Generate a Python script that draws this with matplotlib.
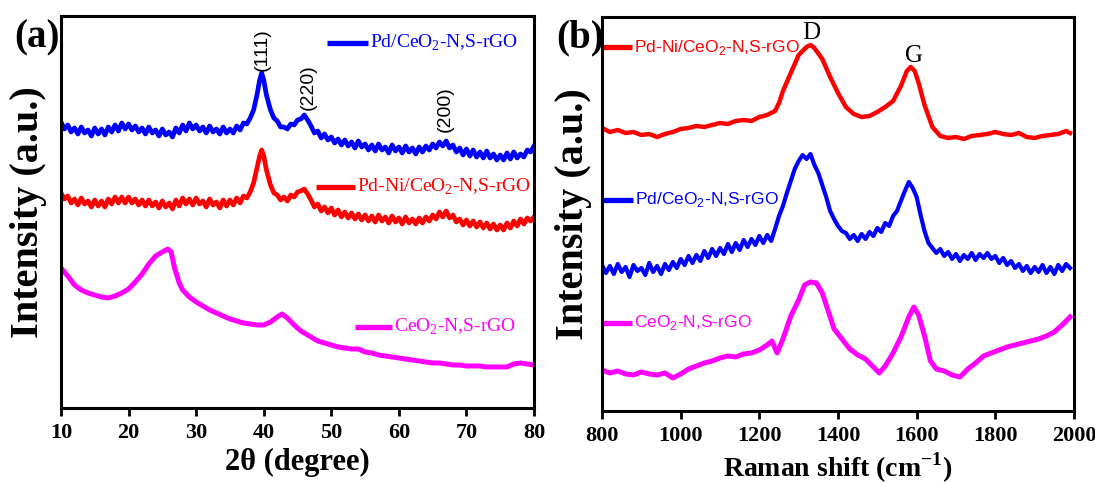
import matplotlib
matplotlib.use("Agg")
import matplotlib.pyplot as plt
from matplotlib import font_manager

# ---------------- XRD data (2theta in degrees, intensity in a.u.) ----------------
xrd_2theta = [10, 10.5, 11, 11.5, 12, 12.5, 13, 13.5, 14, 14.5, 15, 15.5, 16, 16.5, 17, 17.5,
              18, 18.5, 19, 19.5, 20, 20.5, 21, 21.5, 22, 22.5, 23, 23.5, 24, 24.5, 25, 25.5,
              26, 26.5, 27, 27.5, 28, 28.5, 29, 29.5, 30, 30.5, 31, 31.5, 32, 32.5, 33, 33.5,
              34, 34.5, 35, 35.5, 36, 36.5, 37, 37.5, 38, 38.5, 39, 39.4, 39.7, 40, 40.4, 41,
              41.5, 42, 42.5, 43, 43.5, 44, 44.5, 45, 45.5, 46, 46.5, 47, 47.5, 48, 48.5, 49,
              49.5, 50, 50.5, 51, 51.5, 52, 52.5, 53, 53.5, 54, 54.5, 55, 55.5, 56, 56.5, 57,
              57.5, 58, 58.5, 59, 59.5, 60, 60.5, 61, 61.5, 62, 62.5, 63, 63.5, 64, 64.5, 65,
              65.5, 66, 66.5, 67, 67.5, 68, 68.5, 69, 69.5, 70, 70.5, 71, 71.5, 72, 72.5, 73,
              73.5, 74, 74.5, 75, 75.5, 76, 76.5, 77, 77.5, 78, 78.5, 79, 79.5, 80]
xrd_pd_int = [286, 279, 283, 276, 280, 274, 281, 275, 278, 272, 280, 274, 279, 273, 281, 276,
              283, 277, 285, 279, 284, 278, 282, 276, 280, 274, 281, 275, 278, 272, 279, 273,
              276, 271, 280, 275, 283, 277, 285, 279, 283, 277, 281, 275, 282, 276, 279, 274,
              281, 275, 279, 275, 282, 278, 285, 284, 290, 298, 313, 328, 335, 328, 313, 298,
              290, 287, 281, 281, 279, 284, 283, 288, 289, 293, 288, 282, 275, 277, 270, 274,
              268, 271, 265, 269, 263, 268, 262, 266, 260, 267, 261, 264, 258, 263, 257, 264,
              258, 261, 255, 263, 257, 261, 255, 262, 256, 260, 254, 261, 256, 262, 258, 264,
              260, 266, 262, 267, 260, 263, 256, 260, 253, 259, 252, 258, 251, 256, 250, 257,
              250, 254, 248, 253, 248, 255, 249, 256, 250, 254, 251, 258, 256, 262]
xrd_pdni_int = [215, 209, 212, 205, 209, 203, 210, 204, 207, 201, 208, 202, 207, 201, 209, 204,
                211, 205, 211, 205, 211, 205, 209, 203, 208, 202, 208, 202, 206, 200, 207, 201,
                205, 199, 208, 202, 210, 204, 209, 203, 210, 204, 207, 201, 209, 203, 206, 200,
                208, 202, 208, 203, 210, 205, 212, 210, 216, 225, 240, 252, 258, 252, 238, 223,
                215, 213, 208, 211, 207, 213, 211, 216, 217, 219, 214, 208, 201, 204, 197, 201,
                195, 200, 193, 198, 191, 196, 190, 195, 189, 194, 188, 193, 187, 192, 186, 193,
                187, 191, 185, 192, 186, 190, 184, 191, 185, 189, 184, 190, 185, 191, 187, 193,
                189, 196, 191, 197, 190, 193, 186, 189, 183, 188, 182, 187, 181, 186, 180, 185,
                179, 184, 178, 183, 178, 185, 180, 187, 182, 189, 184, 190, 187, 191]

xrd_ceo2_2theta = [10, 11, 12, 13, 14, 15, 16, 17, 18, 19, 20, 21, 22, 23, 24, 25, 25.8, 26.3, 26.8,
                   27.5, 28, 29, 30, 31, 32, 33, 34, 35, 36, 37, 38, 39, 40, 41, 42, 42.7, 43.5,
                   44.5, 45.5, 47, 48, 49, 50, 51, 52, 53, 54, 55, 56, 57, 58, 59, 60, 61, 62, 63,
                   64, 65, 66, 67, 68, 69, 70, 71, 72, 73, 74, 75, 76, 77, 78, 79, 80]
xrd_ceo2_int = [140, 132, 123, 118, 115, 113, 111, 110, 112, 115, 119, 126, 134, 144, 152, 156, 159,
                156, 140, 125, 118, 111, 106, 102, 98, 95, 92, 89, 87, 85, 84, 83, 83, 86, 91, 94,
                90, 83, 77, 71, 67, 65, 63, 61, 60, 59, 59, 56, 55, 53, 52, 51, 50, 49, 48, 47, 46,
                45, 45, 44, 43, 43, 42, 42, 42, 41, 41, 41, 41, 44, 45, 44, 43]

# ---------------- Raman data (shift in cm^-1, intensity in a.u.) ----------------
raman_pdni_shift = [800, 820, 840, 860, 880, 900, 920, 940, 960, 980, 1000, 1020, 1040, 1060, 1080,
                    1100, 1120, 1140, 1160, 1180, 1200, 1220, 1240, 1250, 1260, 1280, 1300, 1320,
                    1330, 1340, 1360, 1380, 1400, 1420, 1440, 1460, 1480, 1500, 1520, 1540, 1560,
                    1575, 1585, 1595, 1605, 1620, 1640, 1660, 1680, 1700, 1720, 1740, 1760, 1780,
                    1800, 1820, 1840, 1860, 1880, 1900, 1920, 1940, 1960, 1980, 1990]
raman_pdni_int = [283, 279, 281, 278, 279, 276, 277, 274, 277, 279, 282, 283, 285, 284, 286, 288,
                  287, 290, 291, 290, 294, 296, 300, 308, 320, 338, 356, 364, 366, 363, 352, 334,
                  318, 304, 297, 294, 295, 299, 304, 310, 325, 340, 344, 340, 328, 306, 284, 275,
                  273, 274, 272, 275, 276, 277, 279, 277, 276, 278, 274, 273, 275, 276, 277, 280, 278]

raman_pd_shift = [800, 810, 820, 830, 840, 850, 860, 870, 880, 890, 900, 910, 920, 930, 940, 950,
                  960, 970, 980, 990, 1000, 1010, 1020, 1030, 1040, 1050, 1060, 1070, 1080, 1090,
                  1100, 1110, 1120, 1130, 1140, 1150, 1160, 1170, 1180, 1190, 1200, 1210, 1220,
                  1230, 1240, 1250, 1260, 1270, 1280, 1290, 1300, 1310, 1320, 1330, 1340, 1350,
                  1360, 1370, 1380, 1390, 1400, 1410, 1420, 1430, 1440, 1450, 1460, 1470, 1480,
                  1490, 1500, 1510, 1520, 1530, 1540, 1550, 1560, 1570, 1580, 1590, 1600, 1610,
                  1620, 1630, 1640, 1650, 1660, 1670, 1680, 1690, 1700, 1710, 1720, 1730, 1740,
                  1750, 1760, 1770, 1780, 1790, 1800, 1810, 1820, 1830, 1840, 1850, 1860, 1870,
                  1880, 1890, 1900, 1910, 1920, 1930, 1940, 1950, 1960, 1970, 1980, 1990]
raman_pd_int = [146, 138, 145, 137, 147, 139, 144, 134, 146, 140, 143, 136, 148, 139, 145, 137,
                147, 141, 149, 143, 152, 146, 155, 148, 156, 150, 160, 153, 162, 155, 163, 157,
                167, 159, 168, 161, 171, 164, 172, 166, 175, 168, 176, 170, 182, 195, 205, 218,
                230, 242, 250, 256, 252, 257, 246, 238, 226, 214, 200, 192, 185, 180, 178, 172,
                176, 170, 177, 172, 179, 175, 183, 179, 188, 185, 195, 200, 210, 220, 229, 223,
                214, 196, 180, 168, 163, 158, 162, 155, 159, 152, 157, 150, 156, 152, 158, 151,
                157, 153, 158, 152, 155, 148, 153, 146, 150, 143, 147, 140, 145, 138, 144, 139,
                146, 138, 144, 137, 146, 140, 147, 143]

raman_ceo2_shift = [800, 820, 840, 860, 880, 900, 920, 940, 960, 980, 1000, 1020, 1040, 1060, 1080,
                    1100, 1120, 1140, 1160, 1180, 1200, 1220, 1232, 1245, 1260, 1280, 1300, 1315,
                    1330, 1345, 1360, 1375, 1390, 1410, 1430, 1450, 1470, 1490, 1505, 1520, 1540,
                    1560, 1580, 1593, 1605, 1620, 1635, 1650, 1670, 1690, 1710, 1730, 1750, 1770,
                    1790, 1810, 1830, 1850, 1870, 1890, 1910, 1930, 1950, 1970, 1990]
raman_ceo2_int = [41, 38, 40, 37, 36, 39, 37, 36, 38, 33, 37, 42, 45, 48, 50, 53, 55, 54, 57, 58,
                  61, 66, 70, 58, 72, 95, 111, 126, 129, 128, 118, 100, 82, 72, 62, 56, 52, 44, 38,
                  45, 58, 74, 94, 104, 96, 75, 50, 42, 40, 36, 34, 42, 48, 55, 58, 61, 64, 66, 68,
                  70, 72, 75, 79, 86, 94]

labels_a = ["Pd/CeO$_\\mathregular{2}$-N,S-rGO", "Pd-Ni/CeO$_\\mathregular{2}$-N,S-rGO",
            "CeO$_\\mathregular{2}$-N,S-rGO"]
labels_b = ["Pd-Ni/CeO$_\\mathregular{2}$-N,S-rGO", "Pd/CeO$_\\mathregular{2}$-N,S-rGO",
            "CeO$_\\mathregular{2}$-N,S-rGO"]

BLUE, RED, MAGENTA = "#0000ff", "#ff0000", "#ff00ff"


def pick(*names):
    for n in names:
        try:
            font_manager.findfont(n, fallback_to_default=False)
            return n
        except Exception:
            continue
    return "DejaVu Sans"


SERIF = pick("Liberation Serif", "DejaVu Serif")
SANS = pick("Liberation Sans", "DejaVu Sans")

plt.rcParams["font.family"] = SERIF
plt.rcParams["mathtext.fontset"] = "custom"
plt.rcParams["mathtext.rm"] = SERIF

fig = plt.figure(figsize=(10.95, 4.83), dpi=100)
ax_a = fig.add_axes([0.0557, 0.1553, 0.432, 0.8116])
ax_b = fig.add_axes([0.5498, 0.1491, 0.431, 0.8157])


def style_axes(ax):
    for s in ax.spines.values():
        s.set_linewidth(2.2)
    ax.tick_params(axis="x", direction="out", length=6, width=2, pad=5)
    ax.set_yticks([])
    for lab in ax.get_xticklabels():
        lab.set_fontweight("bold")
        lab.set_fontsize(16)
        lab.set_family(SERIF)


# ---------------- (a) XRD ----------------
ax_a.plot(xrd_2theta, xrd_pd_int, color=BLUE, lw=3.4)
ax_a.plot(xrd_2theta, xrd_pdni_int, color=RED, lw=3.4)
ax_a.plot(xrd_ceo2_2theta, xrd_ceo2_int, color=MAGENTA, lw=3.6)
ax_a.set_xlim(10, 80)
ax_a.set_ylim(0, 392)
ax_a.set_xticks([10, 20, 30, 40, 50, 60, 70, 80])
style_axes(ax_a)
ax_a.set_xlabel("2θ (degree)", fontsize=22, fontweight="bold", labelpad=3)
ax_a.set_ylabel("Intensity (a.u.)", fontsize=29, fontweight="bold", labelpad=10)

for txt, xx, yy in [("(111)", 39.8, 337), ("(220)", 46.6, 298), ("(200)", 66.9, 276)]:
    ax_a.text(xx, yy, txt, rotation=90, ha="center", va="bottom", fontsize=14, family=SANS)

leg_a = [(labels_a[0], BLUE, 49.4, 55.4, 365), (labels_a[1], RED, 47.7, 53.5, 221),
         (labels_a[2], MAGENTA, 53.5, 59.0, 81)]
for lab, col, x0, x1, yy in leg_a:
    ax_a.plot([x0, x1], [yy, yy], color=col, lw=3.8, solid_capstyle="butt")
    ax_a.text(x1 + 0.3, yy, lab, color=col, fontsize=14, va="center", ha="left", family=SERIF)

fig.text(0.013, 0.922, "(a)", fontsize=28, fontweight="bold", ha="left", va="center")

# ---------------- (b) Raman ----------------
ax_b.plot(raman_pdni_shift, raman_pdni_int, color=RED, lw=3.2)
ax_b.plot(raman_pd_shift, raman_pd_int, color=BLUE, lw=3.0)
ax_b.plot(raman_ceo2_shift, raman_ceo2_int, color=MAGENTA, lw=3.6)
ax_b.set_xlim(800, 2000)
ax_b.set_ylim(0, 394)
ax_b.set_xticks([800, 1000, 1200, 1400, 1600, 1800, 2000])
style_axes(ax_b)
ax_b.set_xlabel("Raman shift (cm$^{\\mathregular{-1}}$)", fontsize=20, fontweight="bold", labelpad=3)
ax_b.set_ylabel("Intensity (a.u.)", fontsize=29, fontweight="bold", labelpad=7)

ax_b.text(1332, 378, "D", fontsize=18, ha="center", va="center")
ax_b.text(1592, 355, "G", fontsize=18, ha="center", va="center")

leg_b = [(labels_b[0], RED, 803, 876, 364), (labels_b[1], BLUE, 803, 878, 211),
         (labels_b[2], MAGENTA, 803, 876, 88)]
for lab, col, x0, x1, yy in leg_b:
    ax_b.plot([x0, x1], [yy, yy], color=col, lw=3.8, solid_capstyle="butt")
    ax_b.text(x1 + 5, yy, lab, color=col, fontsize=12.5, va="center", ha="left", family=SANS)

fig.text(0.508, 0.921, "(b)", fontsize=28, fontweight="bold", ha="left", va="center")

fig.savefig("out.png", dpi=100)
